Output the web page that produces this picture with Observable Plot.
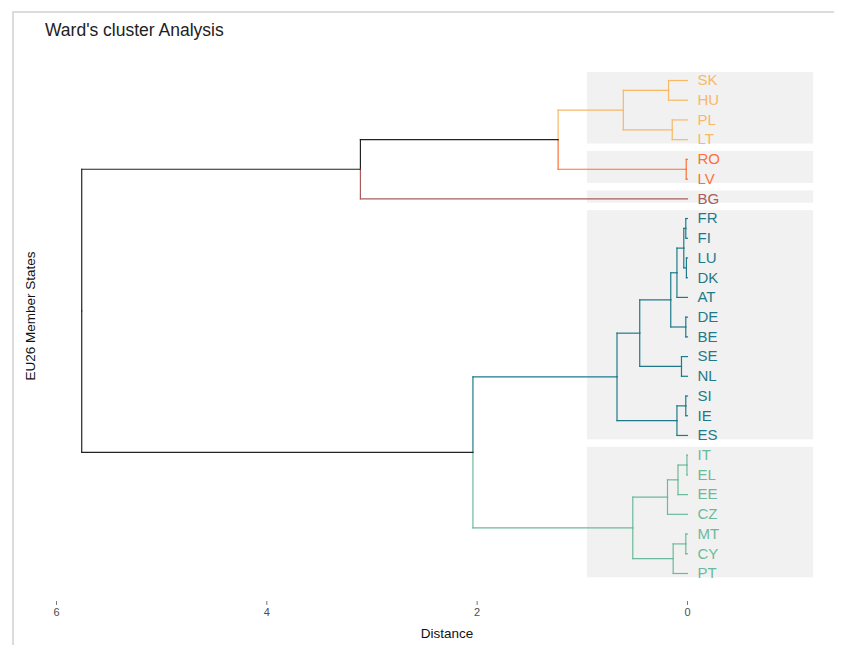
<!DOCTYPE html>
<html><head><meta charset="utf-8">
<script src="https://cdn.jsdelivr.net/npm/d3@7"></script>
<script src="https://cdn.jsdelivr.net/npm/@observablehq/plot@0.6"></script>
<style>
body{margin:0;background:#fff;font-family:"Liberation Sans",Arial,sans-serif;}
#wrap{position:relative;width:844px;height:645px;overflow:hidden;}
#chart{position:absolute;left:0;top:0;}
#frame{position:absolute;left:12px;top:11px;width:820px;height:640px;border-top:2px solid #dcdcdc;border-left:2px solid #dcdcdc;}
.t{position:absolute;white-space:nowrap;}
</style></head><body>
<div id="wrap">
<div id="frame"></div>
<div id="chart"></div>
<div class="t" style="left:45px;top:20px;font-size:17.5px;color:#222">Ward's cluster Analysis</div>
<div class="t" style="left:447px;top:626px;transform:translateX(-50%);font-size:13.5px;color:#111">Distance</div>
<div class="t" style="left:30px;top:316px;transform:translate(-50%,-50%) rotate(-90deg);font-size:13.5px;color:#111">EU26 Member States</div>
</div>
<script>
// leaves, top to bottom
const leaves = ["SK","HU","PL","LT","RO","LV","BG","FR","FI","LU","DK","AT","DE","BE","SE","NL","SI","IE","ES","IT","EL","EE","CZ","MT","CY","PT"];
const leafCluster = [1,1,1,1,2,2,3,4,4,4,4,4,4,4,4,4,4,4,4,5,5,5,5,5,5,5];
const clusterColors = {1:"#F7B965",2:"#FC7136",3:"#A95C5C",4:"#1E7A8A",5:"#6BBA9B"};
// merges: child A, child B, height (distance)
const mergeIds    = ["m1","m2","m3","m4","m5","m6","m7","m8","m9","m10","m11","m12","m13","m14","m15","m16","m17","m18","m19","m20","m21","m22","m23","m24","m25"];
const mergeA      = ["SK","PL","m1","RO","m3","m5","FR","LU","m7","m9","DE","m10","SE","m12","SI","m15","m14","IT","m18","m19","MT","m21","m20","m17","m6"];
const mergeB      = ["HU","LT","m2","LV","m4","BG","FI","DK","m8","AT","BE","m11","NL","m13","IE","ES","m16","EL","EE","CZ","CY","PT","m22","m23","m24"];
const mergeHeight = [0.18,0.145,0.61,0.012,1.23,3.11,0.016,0.01,0.035,0.10,0.016,0.159,0.057,0.454,0.016,0.10,0.67,0.005,0.09,0.19,0.016,0.136,0.52,2.04,5.76];
const xTicks = [6,4,2,0];
const rectRight = 0.95, rectLeft = -1.2, rectPadTop = 0.4, rectPadBottom = 0.22;

const nodes = new Map();
leaves.forEach((l,i)=>nodes.set(l,{y:i+1,h:0,cl:new Set([leafCluster[i]])}));
const segs = [];
mergeIds.forEach((id,i)=>{
  const a = nodes.get(mergeA[i]), b = nodes.get(mergeB[i]);
  const h = mergeHeight[i];
  const node = {y:(a.y+b.y)/2, h, cl:new Set([...a.cl,...b.cl])};
  for (const c of [a,b]) {
    const col = c.cl.size===1 ? clusterColors[[...c.cl][0]] : "#222";
    segs.push({x1:h,y1:node.y,x2:h,y2:c.y,col});
    segs.push({x1:h,y1:c.y,x2:c.h,y2:c.y,col});
  }
  nodes.set(id,node);
});
const clusters = [1,2,3,4,5].map(k=>{
  const idx = leafCluster.map((c,i)=>c===k?i+1:null).filter(v=>v!==null);
  return {k, y1:d3.min(idx)-rectPadTop, y2:d3.max(idx)+rectPadBottom};
});
const leafData = leaves.map((l,i)=>({l,y:i+1,col:clusterColors[leafCluster[i]]}));

const chart = Plot.plot({
  width:844, height:645,
  marginLeft:40, marginRight:20, marginTop:60, marginBottom:44,
  style:{fontFamily:'"Liberation Sans",Arial,sans-serif', background:"transparent"},
  x:{domain:[6.152,-1.303]},
  y:{domain:[27.42,-0.0142], axis:null},
  marks:[
    Plot.rect(clusters,{x1:rectRight,x2:rectLeft,y1:"y1",y2:"y2",fill:"#f1f1f1"}),
    Plot.link(segs,{x1:"x1",y1:"y1",x2:"x2",y2:"y2",stroke:"col",strokeWidth:1.2,strokeLinecap:"square"}),
    Plot.text(leafData,{x:0,y:"y",text:"l",fill:"col",dx:10,textAnchor:"start",fontSize:15}),
    Plot.axisX({ticks:xTicks,tickSize:4,tickPadding:3,fontSize:11,label:null,stroke:"#777",fill:"#4d4d4d"})
  ]
});
document.getElementById("chart").appendChild(chart);
</script>
</body></html>
